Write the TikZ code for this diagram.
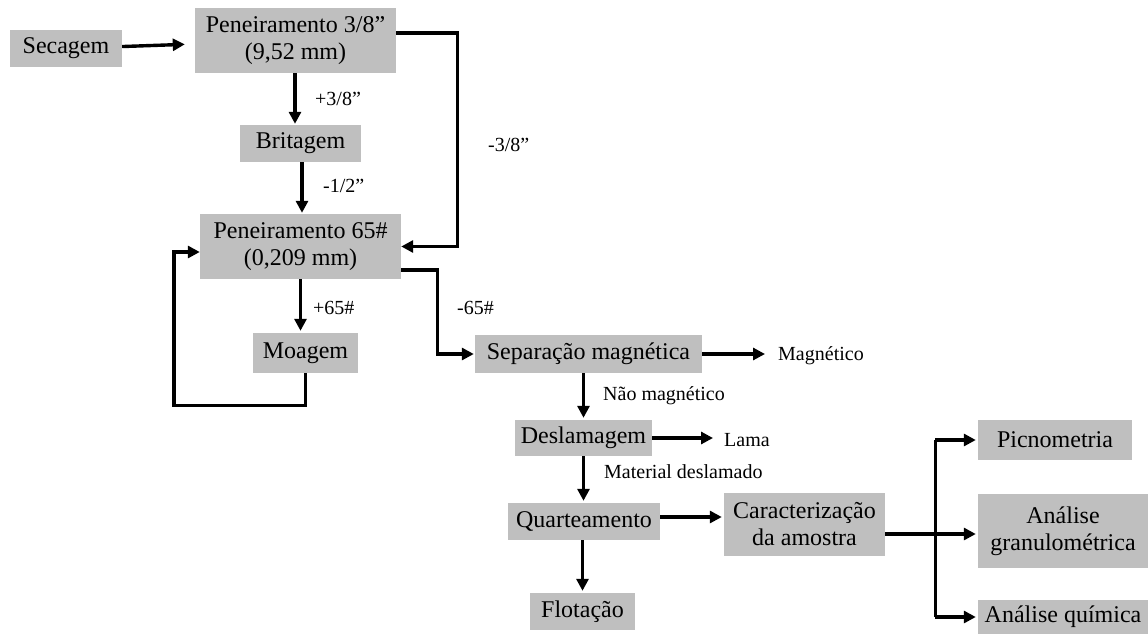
\documentclass[tikz,border=0pt]{standalone}
\usepackage{fontspec}
\setmainfont{Liberation Serif}
\usetikzlibrary{arrows.meta}

\tikzset{
    etapa/.style={fill=gray!50, align=center, inner sep=0pt,
        font=\fontsize{24}{27}\selectfont},
    rotulo/.style={anchor=west, inner sep=0pt, font=\fontsize{20}{23}\selectfont},
    fluxo/.style={line width=3.4pt, -{Triangle[length=12pt, width=12pt]}},
    linha/.style={line width=3.4pt},
}

\begin{document}
\begin{tikzpicture}[x=1pt, y=-1pt]
    \useasboundingbox (0, 0) rectangle (1148, 634);
    % etapas do processo
    \node[etapa, minimum width=112, minimum height=37] (sec) at (66, 48.5) {Secagem};
    \node[etapa, minimum width=201, minimum height=65] (pena) at (295.5, 40.5)
        {Peneiramento 3/8”\\(9,52 mm)};
    \node[etapa, minimum width=121, minimum height=37] (brit) at (300.5, 143.5) {Britagem};
    \node[etapa, minimum width=201, minimum height=65] (penb) at (300.5, 246.5)
        {Peneiramento 65\#\\(0,209 mm)};
    \node[etapa, minimum width=105, minimum height=40] (moag) at (305.5, 353) {Moagem};
    \node[etapa, minimum width=227, minimum height=38] (sep) at (588.5, 354)
        {Separação magnética};
    \node[etapa, minimum width=137, minimum height=36] (desl) at (583.5, 438) {Deslamagem};
    \node[etapa, minimum width=152, minimum height=37] (quar) at (584, 521.5) {Quarteamento};
    \node[etapa, minimum width=161, minimum height=63] (carac) at (804.5, 524.5)
        {Caracterização\\da amostra};
    \node[etapa, minimum width=105, minimum height=37] (flot) at (582.5, 611.5) {Flotação};
    % ensaios de caracterizacao
    \node[etapa, minimum width=154, minimum height=40] (picn) at (1055, 440) {Picnometria};
    \node[etapa, minimum width=170, minimum height=74] (gran) at (1063, 531)
        {Análise\\granulométrica};
    \node[etapa, minimum width=170, minimum height=34] (quim) at (1063, 617) {Análise química};
    % produtos descartados
    \node[rotulo] (magn) at (778, 356) {Magnético};
    \node[rotulo] (lama) at (724, 440) {Lama};
    % circuito de peneiramento e britagem
    \draw[fluxo, shorten >=10pt] (sec) -- (pena);
    \draw[fluxo, shorten >=1pt] (pena.south -| 295, 0) -- (brit.north -| 295, 0);
    \node[rotulo] at (315, 99) {+3/8”};
    \draw[fluxo, shorten >=1pt] (brit.south -| 302, 0) -- (penb.north -| 302, 0);
    \node[rotulo] at (323, 186) {-1/2”};
    \draw[fluxo] ([yshift=7.5pt]pena.east) -- ++(61.5, 0) |- (penb.east);
    \node[rotulo] at (488, 145) {-3/8”};
    % circuito de moagem
    \draw[fluxo, shorten >=2pt] (penb.south) -- (moag.north -| penb.south);
    \node[rotulo] at (313, 308) {+65\#};
    \draw[fluxo] (moag.south) -- ++(0, 32) -| ([xshift=-26pt, yshift=-5.5pt]penb.west)
        -- ([yshift=-5.5pt]penb.west);
    % concentracao
    \draw[fluxo, shorten >=1pt] ([yshift=-23.5pt]penb.east) -- ++(36, 0) |- (sep.west);
    \node[rotulo] at (457, 308) {-65\#};
    \draw[fluxo, shorten >=13pt] (sep.east) -- (magn.west |- sep.east);
    \draw[fluxo, shorten >=2pt] (sep.south -| desl.north) -- (desl.north);
    \node[rotulo] at (603, 396) {Não magnético};
    \draw[fluxo, shorten >=11pt] (desl.east) -- (lama.west |- desl.east);
    \draw[fluxo, shorten >=2pt] (desl.south) -- (quar.north -| desl.south);
    \node[rotulo] at (604, 472) {Material deslamado};
    \draw[fluxo, shorten >=2pt] (quar.south -| flot.north) -- (flot.north);
    \draw[fluxo, shorten >=2pt] ([yshift=4.5pt]quar.east) -- ([yshift=4.5pt]quar.east -| carac.west);
    % ramificacao da caracterizacao
    \draw[linha] ([yshift=-9.5pt]carac.east) -- ++(50, 0) coordinate (ramo);
    \draw[fluxo, shorten >=2pt] (ramo |- picn.west) -- (picn.west);
    \draw[linha] (ramo |- picn.west) -- (ramo |- quim.west);
    \draw[fluxo, shorten >=2pt] (ramo) -- (ramo -| gran.west);
    \draw[fluxo, shorten >=2pt] (ramo |- quim.west) -- (quim.west);
\end{tikzpicture}
\end{document}
